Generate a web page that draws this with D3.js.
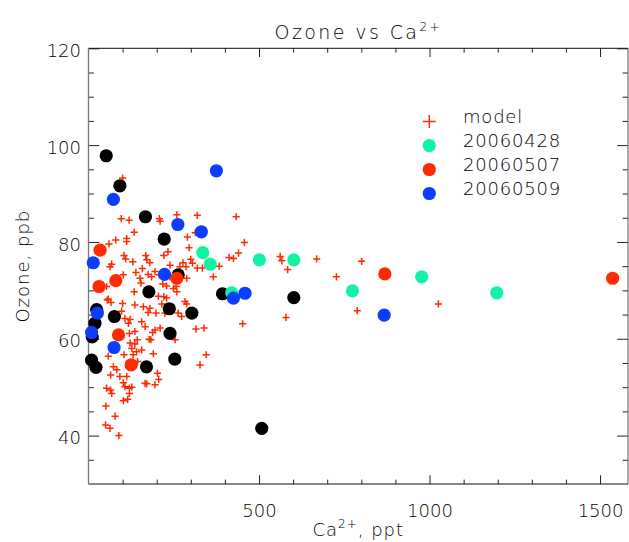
<!DOCTYPE html>
<html>
<head>
<meta charset="utf-8">
<script src="https://cdn.jsdelivr.net/npm/d3@7"></script>
<style>
  body { margin: 0; background: #fff; }
  svg { display: block; }
  text { font-family: "DejaVu Sans", sans-serif; font-weight: 200; fill: #000; }
</style>
</head>
<body>
<svg width="629" height="542"></svg>
<script>
// model (red crosses): Ca2+ (ppt) and ozone (ppb)
const modelCa = [100, 96, 119, 208, 210, 259, 319, 433, 134, 112, 112, 80, 60, 290, 295, 457, 233, 221, 168, 104,
  109, 130, 68, 63, 171, 180, 158, 239, 277, 286, 300, 305, 319, 334, 383, 412, 425, 440, 366, 139,
  175, 185, 195, 102, 151, 154, 208, 239, 268, 288, 218, 229, 257, 259, 134, 205, 53, 58, 229, 221,
  249, 66, 100, 136, 161, 180, 175, 198, 215, 224, 263, 273, 283, 288, 97, 107, 122, 117, 156, 166,
  136, 120, 210, 195, 188, 178, 143, 122, 136, 156, 127, 141, 131, 104, 58, 190, 73, 83, 65, 92,
  112, 144, 202, 206, 166, 171, 195, 102, 107, 120, 127, 53, 65, 68, 120, 102, 115, 51, 78, 50,
  63, 89, 327, 345, 315, 339, 452, 254, 183, 562, 567, 584, 669, 727, 801, 788, 579, 1026, 313, 55];
const modelO3 = [93.2, 84.8, 84.5, 84.8, 84.3, 85.6, 85.5, 85.2, 82.0, 80.7, 80.1, 80.4, 79.6, 81.0, 78.8, 79.9, 78.0, 77.2, 77.2, 77.2,
  76.5, 75.9, 75.4, 74.9, 76.3, 75.7, 74.5, 75.2, 75.7, 74.9, 76.4, 75.6, 74.6, 74.6, 75.0, 76.8, 76.6, 77.7, 72.8, 73.7,
  73.3, 72.8, 73.9, 73.2, 72.5, 71.5, 73.2, 72.8, 74.9, 72.5, 71.3, 70.9, 70.8, 69.7, 69.7, 68.8, 70.8, 68.2, 68.4, 68.7,
  70.4, 67.5, 67.3, 67.0, 66.6, 66.3, 65.4, 65.3, 67.2, 65.3, 65.3, 64.6, 67.7, 67.2, 65.7, 64.2, 64.0, 63.2, 63.5, 62.5,
  61.5, 61.1, 62.2, 61.8, 61.3, 59.9, 59.8, 59.1, 58.9, 57.7, 58.0, 57.3, 56.7, 56.7, 56.4, 56.9, 54.2, 53.6, 52.5, 52.2,
  52.2, 55.3, 52.9, 51.6, 50.8, 50.7, 50.5, 50.9, 50.1, 49.8, 50.0, 49.8, 49.4, 48.7, 48.7, 47.2, 47.5, 46.1, 44.0, 42.2,
  41.5, 40.0, 54.6, 56.7, 62.0, 62.2, 63.1, 59.8, 59.8, 77.0, 76.1, 74.3, 76.5, 72.8, 76.0, 65.8, 64.4, 67.2, 81.9, 68.0];

// unlabelled flights (black)
const blackCa = [52, 92, 167, 222, 177, 393, 263, 24, 76, 237, 303, 19, 11, 239, 9, 22, 170, 253, 508, 602];
const blackO3 = [97.8, 91.6, 85.2, 80.6, 69.7, 69.3, 73.2, 66.0, 64.6, 66.2, 65.3, 63.2, 60.4, 61.1, 55.6, 54.1, 54.2, 55.8, 41.5, 68.5];

// 20060428 (green)
const ca0428 = [335, 357, 501, 420, 602, 774, 977, 1197];
const o30428 = [77.8, 75.4, 76.3, 69.5, 76.3, 69.9, 72.8, 69.5];

// 20060507 (red)
const ca0507 = [34, 80, 31, 259, 88, 125, 869, 1537];
const o30507 = [78.3, 72.0, 70.8, 72.5, 60.8, 54.6, 73.4, 72.5];

// 20060509 (blue)
const ca0509 = [73, 375, 262, 331, 14, 223, 425, 459, 26, 9, 75, 867];
const o30509 = [88.8, 94.7, 83.6, 82.1, 75.7, 73.3, 68.4, 69.4, 65.3, 61.3, 58.2, 64.9];

const legendLabels = ["model", "20060428", "20060507", "20060509"];
const xMajor = [500, 1000, 1500];
const yMajor = [40, 60, 80, 100, 120];

const RED = "#ff2a00", GREEN = "#12f2a2", BLUE = "#0b3dff";

const svg = d3.select("svg");
const x = d3.scaleLinear().domain([0, 1582]).range([88.5, 628]);
const y = d3.scaleLinear().domain([30, 120]).range([484, 48.3]);
const [x0, x1] = x.range();
const [y0, y1] = y.range();

// axes: ticks inward on all four sides
const xMinor = d3.range(100, 1600, 100).filter((v) => !xMajor.includes(v));
const yMinor = d3.range(35, 120, 5).filter((v) => !yMajor.includes(v));

function axisGroup(axis, tx, ty) {
	const g = svg.append("g").attr("transform", `translate(${tx},${ty})`).call(axis);
	g.select(".domain").remove();
	g.selectAll(".tick line").attr("stroke", "#222");
	return g;
}

const bottom = axisGroup(d3.axisBottom(x).tickValues(xMajor).tickFormat(d3.format("d")).tickSize(-8.7), 0, y0);
bottom.selectAll("text").attr("y", 33).attr("dy", 0).attr("font-size", 18).attr("fill", "#000")
	.attr("font-family", null);
axisGroup(d3.axisBottom(x).tickValues(xMinor).tickSize(-4.4).tickFormat(""), 0, y0);
axisGroup(d3.axisTop(x).tickValues(xMajor).tickSize(-8.7).tickFormat(""), 0, y1);
axisGroup(d3.axisTop(x).tickValues(xMinor).tickSize(-4.4).tickFormat(""), 0, y1);

const left = axisGroup(d3.axisLeft(y).tickValues(yMajor).tickSize(-10.8), x0, 0);
left.selectAll("text").attr("x", -7.5).attr("dy", "0.45em").attr("font-size", 18).attr("fill", "#000")
	.attr("font-family", null);
axisGroup(d3.axisLeft(y).tickValues(yMinor).tickSize(-5.4).tickFormat(""), x0, 0);
axisGroup(d3.axisRight(y).tickValues(yMajor).tickSize(-10.8).tickFormat(""), x1, 0);
axisGroup(d3.axisRight(y).tickValues(yMinor).tickSize(-5.4).tickFormat(""), x1, 0);

svg.append("line").attr("x1", x0).attr("x2", x1).attr("y1", y0).attr("y2", y0).attr("stroke", "#111");
svg.append("line").attr("x1", x0).attr("x2", x1).attr("y1", y1).attr("y2", y1).attr("stroke", "#111");
svg.append("line").attr("x1", x0).attr("x2", x0).attr("y1", y0).attr("y2", y1).attr("stroke", "#777").attr("stroke-width", 1.3);
svg.append("line").attr("x1", x1).attr("x2", x1).attr("y1", y0).attr("y2", y1).attr("stroke", "#555");

// model crosses
const plus = (cx, cy, s) => `M${cx - s},${cy}H${cx + s}M${cx},${cy - s}V${cy + s}`;
const model = d3.zip(modelCa, modelO3);
svg.append("path")
	.attr("d", model.map(([c, o]) => plus(x(c), y(o), 3.6)).join(""))
	.attr("stroke", RED).attr("stroke-width", 1.5).attr("fill", "none");

// flight circles, drawn black, green, red, blue
const series = [
	[blackCa, blackO3, "#000"],
	[ca0428, o30428, GREEN],
	[ca0507, o30507, RED],
	[ca0509, o30509, BLUE]
];
series.forEach(([cs, os, col]) => {
	svg.append("g").selectAll("circle").data(d3.zip(cs, os)).join("circle")
		.attr("cx", (d) => x(d[0])).attr("cy", (d) => y(d[1])).attr("r", 6.6).attr("fill", col);
});

// legend
const lx = 429.3, ly = 121.5, lstep = 24;
svg.append("path").attr("d", plus(lx, ly, 6.5)).attr("stroke", RED).attr("stroke-width", 1.4);
[GREEN, RED, BLUE].forEach((col, i) => {
	svg.append("circle").attr("cx", lx).attr("cy", ly + lstep * (i + 1)).attr("r", 6.6).attr("fill", col);
});
svg.append("g").selectAll("text").data(legendLabels).join("text")
	.attr("x", 463).attr("y", (d, i) => ly + 1 + lstep * i)
	.attr("font-size", 18).attr("letter-spacing", 0.8).text((d) => d);

// title and axis titles
const title = svg.append("text").attr("x", (x0 + x1) / 2).attr("y", 38.5).attr("text-anchor", "middle")
	.attr("font-size", 19).attr("letter-spacing", 2.4);
title.append("tspan").text("Ozone vs Ca");
title.append("tspan").attr("font-size", 12).attr("dy", -8).text("2+");

const xt = svg.append("text").attr("x", (x0 + x1) / 2).attr("y", 536).attr("text-anchor", "middle")
	.attr("font-size", 18).attr("letter-spacing", 1);
xt.append("tspan").text("Ca");
xt.append("tspan").attr("font-size", 12).attr("dy", -8).text("2+");
xt.append("tspan").attr("dy", 8).text(", ppt");

svg.append("text").attr("transform", `translate(28.5,${(y0 + y1) / 2}) rotate(-90)`)
	.attr("text-anchor", "middle").attr("font-size", 18).attr("letter-spacing", 1).text("Ozone, ppb");
</script>
</body>
</html>
